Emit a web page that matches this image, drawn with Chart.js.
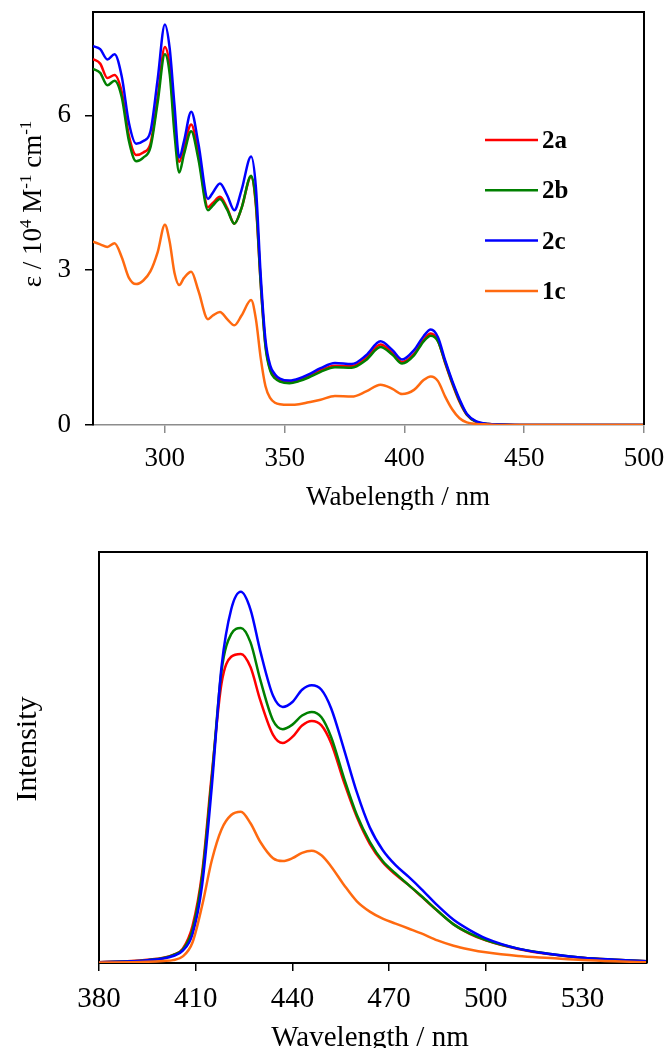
<!DOCTYPE html>
<html>
<head>
<meta charset="utf-8">
<script src="https://cdn.jsdelivr.net/npm/chart.js@4.4.1/dist/chart.umd.min.js"></script>
<style>
    html, body { margin: 0; padding: 0; background: #fff; }
    #top    { position: absolute; left: 0; top: 0;     width: 666px; height: 510px; }
    #bottom { position: absolute; left: 0; top: 510px; width: 666px; height: 538px; }
</style>
</head>
<body>
<div id="top"><canvas id="absChart"></canvas></div>
<div id="bottom"><canvas id="emChart"></canvas></div>
<script>
// series
var seriesNames  = ['2a', '2b', '2c', '1c'];
var seriesColors = ['#ff0000', '#008000', '#0000ff', '#ff6a10'];

// absorption (top)
var absWl = [270, 273, 276, 279, 282, 285, 288, 291, 294, 297,
             300, 302, 304, 306, 308, 311, 314, 318, 320, 323,
             326, 329, 332, 336, 338, 340, 342, 344, 346, 348,
             352, 356, 360, 365, 371, 378, 384, 390, 395, 399,
             404, 408, 411, 414, 417, 420, 423, 426, 430, 435,
             440, 450, 470, 500];
var abs2a = [7.09, 7.00, 6.72, 6.78, 6.45, 5.60, 5.23, 5.28, 5.45, 6.35,
             7.32, 6.95, 5.85, 5.10, 5.40, 5.82, 5.25, 4.22, 4.30, 4.42,
             4.20, 3.90, 4.20, 4.81, 4.25, 2.75, 1.55, 1.08, 0.93, 0.87,
             0.83, 0.87, 0.95, 1.06, 1.15, 1.14, 1.30, 1.56, 1.40, 1.22,
             1.38, 1.65, 1.77, 1.63, 1.20, 0.80, 0.45, 0.20, 0.06, 0.02,
             0.01, 0.00, 0.00, 0.00];
var abs2b = [6.90, 6.82, 6.58, 6.67, 6.35, 5.50, 5.11, 5.18, 5.38, 6.25,
             7.18, 6.80, 5.65, 4.89, 5.25, 5.69, 5.15, 4.16, 4.25, 4.38,
             4.17, 3.90, 4.20, 4.83, 4.30, 2.75, 1.52, 1.05, 0.90, 0.84,
             0.81, 0.85, 0.92, 1.03, 1.12, 1.11, 1.26, 1.51, 1.36, 1.19,
             1.35, 1.62, 1.73, 1.62, 1.22, 0.82, 0.47, 0.21, 0.06, 0.02,
             0.01, 0.00, 0.00, 0.00];
var abs2c = [7.34, 7.28, 7.08, 7.18, 6.75, 5.85, 5.45, 5.50, 5.69, 6.70,
             7.76, 7.30, 6.20, 5.18, 5.50, 6.07, 5.45, 4.38, 4.50, 4.68,
             4.45, 4.16, 4.55, 5.20, 4.60, 2.90, 1.65, 1.15, 0.98, 0.90,
             0.86, 0.90, 0.98, 1.10, 1.20, 1.18, 1.35, 1.62, 1.45, 1.27,
             1.45, 1.72, 1.85, 1.70, 1.25, 0.85, 0.50, 0.22, 0.07, 0.02,
             0.01, 0.00, 0.00, 0.00];
var abs1c = [3.55, 3.50, 3.45, 3.52, 3.25, 2.85, 2.73, 2.80, 2.98, 3.35,
             3.88, 3.55, 2.95, 2.71, 2.85, 2.97, 2.60, 2.05, 2.12, 2.19,
             2.05, 1.93, 2.12, 2.42, 2.05, 1.30, 0.75, 0.52, 0.43, 0.40,
             0.39, 0.40, 0.44, 0.49, 0.56, 0.55, 0.65, 0.78, 0.70, 0.60,
             0.68, 0.87, 0.94, 0.85, 0.55, 0.30, 0.13, 0.05, 0.02, 0.01,
             0.00, 0.00, 0.00, 0.00];
var absTicksX = [300, 350, 400, 450, 500];
var absTicksY = [0, 3, 6];

// emission (bottom)
var emWl = [380, 390, 395, 400, 403, 406, 409, 412, 415, 418,
            421, 424, 427, 430, 434, 437, 440, 443, 446, 449,
            452, 456, 460, 464, 468, 472, 476, 480, 485, 490,
            495, 500, 510, 520, 530, 540, 550];
var em2a = [0.002, 0.005, 0.008, 0.013, 0.020, 0.035, 0.090, 0.220, 0.460, 0.680,
            0.745, 0.752, 0.720, 0.640, 0.555, 0.535, 0.550, 0.578, 0.589, 0.578,
            0.535, 0.440, 0.355, 0.290, 0.245, 0.215, 0.190, 0.162, 0.127, 0.094,
            0.071, 0.055, 0.034, 0.021, 0.013, 0.008, 0.004];
var em2b = [0.002, 0.004, 0.007, 0.012, 0.019, 0.033, 0.080, 0.210, 0.450, 0.710,
            0.800, 0.815, 0.780, 0.690, 0.590, 0.569, 0.580, 0.602, 0.611, 0.598,
            0.550, 0.450, 0.360, 0.295, 0.248, 0.218, 0.190, 0.163, 0.127, 0.094,
            0.072, 0.056, 0.035, 0.022, 0.013, 0.008, 0.004];
var em2c = [0.002, 0.004, 0.007, 0.011, 0.017, 0.030, 0.070, 0.190, 0.430, 0.720,
            0.860, 0.903, 0.860, 0.760, 0.650, 0.623, 0.635, 0.665, 0.676, 0.665,
            0.620, 0.520, 0.415, 0.330, 0.275, 0.238, 0.210, 0.180, 0.140, 0.105,
            0.080, 0.060, 0.035, 0.022, 0.013, 0.008, 0.004];
var em1c = [0.001, 0.002, 0.003, 0.005, 0.007, 0.016, 0.050, 0.140, 0.250, 0.325,
            0.360, 0.368, 0.340, 0.295, 0.255, 0.248, 0.255, 0.268, 0.273, 0.262,
            0.235, 0.190, 0.150, 0.125, 0.108, 0.096, 0.084, 0.072, 0.055, 0.042,
            0.033, 0.026, 0.017, 0.012, 0.007, 0.004, 0.002];
var emTicksX = [380, 410, 440, 470, 500, 530];

var serif = 'Liberation Serif';

function makeSets(xs, lists) {
    return lists.map(function(vals, i) {
        return {
            label: seriesNames[i],
            data: xs.map(function(x, k) { return { x: x, y: vals[k] }; }),
            borderColor: seriesColors[i],
            borderWidth: 2.5,
            pointRadius: 0,
            fill: false,
            cubicInterpolationMode: 'monotone',
            order: lists.length - i
        };
    });
}

function fixedTicks(list) {
    return function(scale) {
        scale.ticks = list.map(function(v) { return { value: v }; });
    };
}

// fixed axis thickness, no extra label padding
function fitTo(size) {
    return function(s) {
        if (s.isHorizontal()) s.height = size; else s.width = size;
        s.paddingLeft = s.paddingRight = s.paddingTop = s.paddingBottom = 0;
    };
}

// top + right edges of the plot box
var framePlugin = {
    id: 'frame',
    afterDraw: function(chart) {
        var a = chart.chartArea, ctx = chart.ctx;
        ctx.save();
        ctx.strokeStyle = '#000';
        ctx.lineWidth = 2;
        ctx.beginPath();
        ctx.moveTo(a.left, a.top);
        ctx.lineTo(a.right, a.top);
        ctx.lineTo(a.right, a.bottom);
        ctx.stroke();
        ctx.restore();
    }
};

// axis titles, with superscript parts
var titlesPlugin = {
    id: 'titles',
    afterDraw: function(chart, args, opts) {
        var ctx = chart.ctx;
        (opts.items || []).forEach(function(it) {
            var small = Math.round(it.size * 0.62);
            var widths = it.parts.map(function(p) {
                ctx.font = (p.sup ? small : it.size) + 'px "' + serif + '"';
                return ctx.measureText(p.t).width;
            });
            var total = widths.reduce(function(s, w) { return s + w; }, 0);
            ctx.save();
            ctx.translate(it.x, it.y);
            if (it.rotate) ctx.rotate(-Math.PI / 2);
            ctx.fillStyle = '#000';
            ctx.textBaseline = 'alphabetic';
            ctx.textAlign = 'left';
            var pos = -total / 2;
            it.parts.forEach(function(p, k) {
                ctx.font = (p.sup ? small : it.size) + 'px "' + serif + '"';
                ctx.fillText(p.t, pos, p.sup ? -it.size * 0.38 : 0);
                pos += widths[k];
            });
            ctx.restore();
        });
    }
};

// legend drawn inside the plot
var insideLegend = {
    id: 'insideLegend',
    afterDraw: function(chart, args, opts) {
        if (!opts.show) return;
        var ctx = chart.ctx;
        ctx.save();
        ctx.font = 'bold ' + opts.size + 'px "' + serif + '"';
        ctx.textBaseline = 'alphabetic';
        chart.data.datasets.forEach(function(ds, i) {
            var y = opts.y + i * opts.dy;
            ctx.strokeStyle = ds.borderColor;
            ctx.lineWidth = 2.5;
            ctx.beginPath();
            ctx.moveTo(opts.x, y);
            ctx.lineTo(opts.x + opts.len, y);
            ctx.stroke();
            ctx.fillStyle = '#000';
            ctx.fillText(ds.label, opts.x + opts.len + 4, y + 8);
        });
        ctx.restore();
    }
};

Chart.register(framePlugin, titlesPlugin, insideLegend);

new Chart(document.getElementById('absChart'), {
    type: 'line',
    data: { datasets: makeSets(absWl, [abs2a, abs2b, abs2c, abs1c]) },
    options: {
        responsive: true,
        maintainAspectRatio: false,
        animation: false,
        layout: { padding: { left: 0, top: 12, right: 22, bottom: 0 } },
        scales: {
            x: {
                type: 'linear',
                min: 270,
                max: 500,
                afterBuildTicks: fixedTicks(absTicksX),
                afterFit: fitTo(85),
                ticks: { font: { family: serif, size: 27 }, color: '#000', padding: 10, maxRotation: 0 },
                grid: { drawOnChartArea: false, tickLength: 8, color: '#8c8c8c', lineWidth: 1.5 },
                border: { color: '#8c8c8c', width: 1.5 }
            },
            y: {
                min: 0,
                max: 8,
                afterBuildTicks: fixedTicks(absTicksY),
                afterFit: fitTo(93),
                ticks: { font: { family: serif, size: 27 }, color: '#000', padding: 14 },
                grid: { drawOnChartArea: false, tickLength: 8, color: '#000', lineWidth: 1.5 },
                border: { color: '#000', width: 2 }
            }
        },
        plugins: {
            legend: { display: false },
            tooltip: { enabled: false },
            insideLegend: { show: true, x: 485, y: 140, dy: 50.3, len: 53, size: 25 },
            titles: {
                items: [
                    { x: 41, y: 204, rotate: true, size: 27, parts: [
                        { t: 'ε / 10' }, { t: '4', sup: true }, { t: ' M' }, { t: '-1', sup: true },
                        { t: ' cm' }, { t: '-1', sup: true }] },
                    { x: 398, y: 505, size: 27, parts: [{ t: 'Wabelength / nm' }] }
                ]
            }
        }
    }
});

new Chart(document.getElementById('emChart'), {
    type: 'line',
    data: { datasets: makeSets(emWl, [em2a, em2b, em2c, em1c]) },
    options: {
        responsive: true,
        maintainAspectRatio: false,
        animation: false,
        layout: { padding: { left: 0, top: 42, right: 19, bottom: 0 } },
        scales: {
            x: {
                type: 'linear',
                min: 380,
                max: 550,
                afterBuildTicks: fixedTicks(emTicksX),
                afterFit: fitTo(85),
                ticks: { font: { family: serif, size: 29 }, color: '#000', padding: 11, maxRotation: 0 },
                grid: { drawOnChartArea: false, tickLength: 8, color: '#000', lineWidth: 1.5 },
                border: { color: '#000', width: 2 }
            },
            y: {
                min: 0,
                max: 1,
                afterFit: fitTo(99),
                ticks: { display: false },
                grid: { display: false },
                border: { color: '#000', width: 2 }
            }
        },
        plugins: {
            legend: { display: false },
            tooltip: { enabled: false },
            insideLegend: { show: false },
            titles: {
                items: [
                    { x: 36, y: 239, rotate: true, size: 30, parts: [{ t: 'Intensity' }] },
                    { x: 370, y: 536, size: 29, parts: [{ t: 'Wavelength / nm' }] }
                ]
            }
        }
    }
});
</script>
</body>
</html>
